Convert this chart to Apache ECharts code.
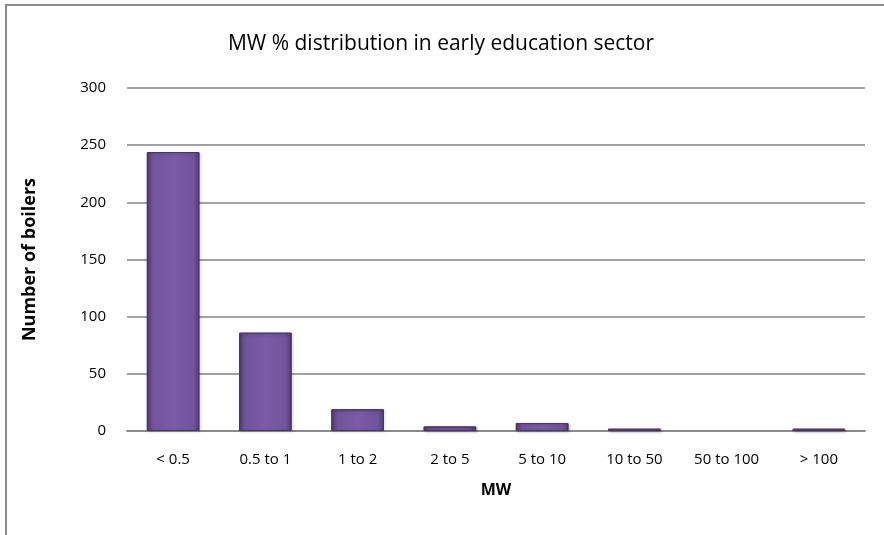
<!DOCTYPE html>
<html>
<head>
<meta charset="utf-8">
<script src="https://cdn.jsdelivr.net/npm/echarts@6/dist/echarts.min.js"></script>
<style>
  html, body { margin: 0; padding: 0; background: #fff; }
  #frame {
    position: absolute; left: 5px; top: 4px; width: 879px; height: 531px;
    border-left: 2px solid #8c8c8c; border-top: 2px solid #8c8c8c;
    box-sizing: border-box;
  }
  #chart { position: absolute; left: 0; top: 0; width: 884px; height: 535px; }
</style>
</head>
<body>
<div id="frame"></div>
<div id="chart"></div>
<script>
const categories = ['< 0.5', '0.5 to 1', '1 to 2', '2 to 5', '5 to 10', '10 to 50', '50 to 100', '> 100']
const boilers = [244, 86, 19, 4, 7, 2, 0, 2]
const yTicks = [0, 50, 100, 150, 200, 250, 300]

const font = '"Open Sans", sans-serif'

const myChart = echarts.init(document.getElementById('chart'))

// empty categories get no outline, like the original
const barData = boilers.map((v) => {
  if (v === 0) {
    return { value: v, itemStyle: { borderWidth: 0, shadowBlur: 0, opacity: 0 } }
  }
  return v
})

const option = {
  backgroundColor: 'transparent',
  title: {
    text: 'MW % distribution in early education sector',
    left: 436,
    top: 29,
    textAlign: 'center',
    textStyle: { fontFamily: font, fontSize: 21, fontWeight: 'normal', color: '#000' }
  },
  grid: { left: 127, right: 19, top: 88, bottom: 104 },
  xAxis: {
    type: 'category',
    data: categories,
    name: 'MW',
    nameLocation: 'middle',
    nameGap: 51,
    nameTextStyle: { fontFamily: font, fontSize: 16, fontWeight: 'bold', color: '#000' },
    axisTick: { show: false },
    axisLine: { lineStyle: { color: '#8a8a8a', width: 2 } },
    axisLabel: { interval: 0, margin: 21, fontFamily: font, fontSize: 15, color: '#000' }
  },
  yAxis: {
    type: 'value',
    min: yTicks[0],
    max: yTicks[yTicks.length - 1],
    interval: 50,
    name: 'Number of boilers',
    nameLocation: 'middle',
    nameGap: 88,
    nameTextStyle: { fontFamily: font, fontSize: 18, fontWeight: 'bold', color: '#000' },
    axisLine: { show: false },
    axisTick: { show: false },
    axisLabel: { margin: 21, fontFamily: font, fontSize: 15, color: '#000' },
    splitLine: { lineStyle: { color: '#828282', width: 1.5 } }
  },
  series: [
    {
      type: 'bar',
      data: barData,
      barWidth: '57%',
      itemStyle: {
        color: new echarts.graphic.LinearGradient(0, 0, 1, 0, [
          { offset: 0, color: '#553d78' },
          { offset: 0.12, color: '#71549b' },
          { offset: 0.5, color: '#7a5ba7' },
          { offset: 0.88, color: '#71549b' },
          { offset: 1, color: '#553d78' }
        ]),
        borderColor: '#4a3666',
        borderWidth: 1,
        shadowColor: 'rgba(0,0,0,0.25)',
        shadowBlur: 3,
        shadowOffsetX: 1,
        shadowOffsetY: 1
      }
    }
  ]
}

myChart.setOption(option)
</script>
</body>
</html>
